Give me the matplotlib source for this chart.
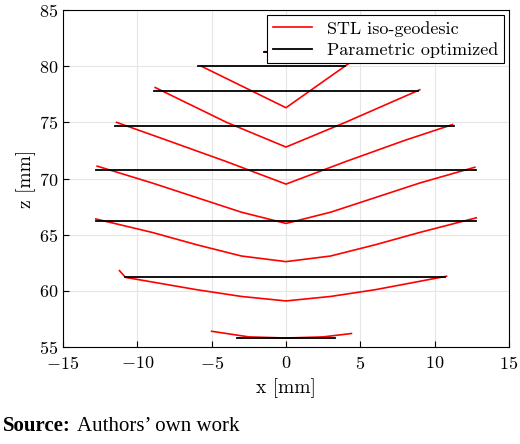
import numpy as np
import matplotlib.pyplot as plt

plt.rcParams['font.family'] = 'cmr10'
plt.rcParams['axes.formatter.use_mathtext'] = True
plt.rcParams['mathtext.fontset'] = 'cm'

# STL iso-geodesic curves: (x points, z points)
stl_x = [
    [-5.0, -2.5, 0, 2.5, 4.4],
    [-11.2, -10.8, -6, -3, 0, 3, 6, 10.8],
    [-12.8, -9, -6, -3, 0, 3, 6, 9, 12.8],
    [-12.7, -9, -6, -3, 0, 3, 6, 9, 12.7],
    [-11.4, -8, -4, 0, 4, 8, 11.2],
    [-8.8, -4, 0, 4, 9.0],
    [-5.7, 0, 4.5],
    [-1.4, 0, 1.0],
]
stl_z = [
    [56.4, 55.9, 55.8, 55.9, 56.2],
    [61.8, 61.2, 60.1, 59.5, 59.1, 59.5, 60.1, 61.3],
    [66.4, 65.2, 64.1, 63.1, 62.6, 63.1, 64.1, 65.2, 66.5],
    [71.1, 69.6, 68.3, 67.0, 66.0, 67.0, 68.3, 69.6, 71.0],
    [75.0, 73.4, 71.5, 69.5, 71.5, 73.4, 74.8],
    [78.1, 75.0, 72.8, 75.0, 77.9],
    [80.0, 76.3, 80.5],
    [81.3, 80.9, 81.8],
]
# Parametric optimized levels: (z, x start, x end)
par_z = [55.8, 61.2, 66.2, 70.8, 74.7, 77.8, 80.0, 81.3]
par_x0 = [-3.3, -10.8, -12.8, -12.8, -11.5, -8.9, -5.9, -1.5]
par_x1 = [3.3, 10.7, 12.8, 12.8, 11.3, 8.9, 4.0, 1.5]

fig = plt.figure(figsize=(5.2, 4.44), dpi=100)
ax = fig.add_axes([63/520, 97/444, 446/520, 337/444])

for i, (xs, zs) in enumerate(zip(stl_x, stl_z)):
    ax.plot(xs, zs, color='red', lw=1.2, label='STL iso-geodesic' if i == 0 else None)
for i, (z, a, b) in enumerate(zip(par_z, par_x0, par_x1)):
    ax.plot([a, b], [z, z], color='black', lw=1.3, label='Parametric optimized' if i == 0 else None)

ax.set_xlim(-15, 15)
ax.set_ylim(55, 85)
ax.set_xticks(np.arange(-15, 16, 5))
ax.set_yticks(np.arange(55, 86, 5))
ax.grid(True, color='#e6e6e6', lw=0.8)
ax.set_axisbelow(True)
ax.tick_params(direction='in', labelsize=13, length=4)
ax.tick_params(axis='x', pad=6)
ax.set_xlabel('x [mm]', fontsize=14)
ax.set_ylabel('z [mm]', fontsize=14, labelpad=2)
leg = ax.legend(loc='upper right', fontsize=13, fancybox=False, framealpha=1,
                edgecolor='black', borderaxespad=0.3, handlelength=2.2,
                borderpad=0.3, labelspacing=0.3)
leg.get_frame().set_linewidth(0.8)

fig.text(0.005, 0.03, 'Source:', fontsize=15, fontweight='bold', family='Liberation Serif')
fig.text(0.148, 0.03, 'Authors\u2019 own work', fontsize=15, family='Liberation Serif')

fig.savefig('out.png', dpi=100)
